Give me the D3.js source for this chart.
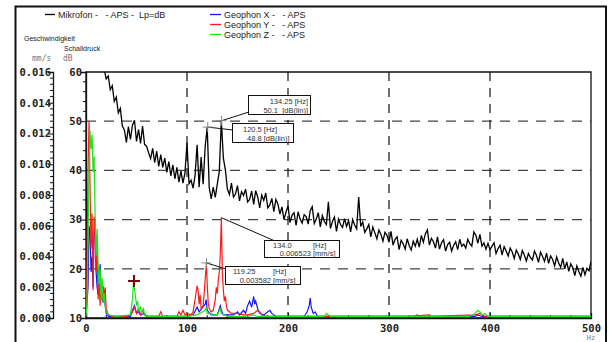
<!DOCTYPE html>
<html>
<head>
<meta charset="utf-8">
<title>Mikrofon / Geophon APS</title>
<style>
  body { margin: 0; background: #fff; }
  svg { display: block; }
  text { font-family: 'Liberation Sans', Arial, sans-serif; white-space: pre; }
  .tick-label { font-family: 'DejaVu Sans Mono', monospace; font-weight: bold; font-size: 10.5px; fill: #222; }
  .unit { font-family: 'DejaVu Sans Mono', monospace; font-size: 8px; fill: #777; }
  .note { font-size: 7.5px; fill: #333; }
  .legend { font-size: 9px; fill: #222; }
</style>
</head>
<body>
<script src="https://d3js.org/d3.v7.min.js"></script>
<script>

// ---- data -------------------------------------------------------------

// Mikrofon (dB), one value every 2 Hz starting at 18 Hz
var micStart = 18, micStep = 2;
var micDb = [
  60.5, 58.6, 59.2, 56.4, 57.2, 54.0, 54.9, 51.7, 52.6, 49.0,
  48.2, 45.7, 48.9, 46.3, 49.2, 50.2, 45.9, 48.3, 45.5, 49.0,
  45.3, 44.9, 43.6, 42.4, 44.5, 41.6, 43.9, 40.8, 43.2, 40.6,
  42.5, 39.6, 41.8, 38.9, 41.1, 38.3, 40.6, 37.6, 39.9, 37.4,
  39.5, 45.6, 37.3, 38.0, 36.4, 39.0, 45.2, 36.6, 42.7, 37.2,
  44.8, 48.8, 36.5, 34.2, 36.6, 34.5, 37.2, 39.8, 50.1, 42.5,
  40.1, 36.2, 35.1, 37.4, 34.6, 35.2, 36.9, 33.8, 35.7, 34.9,
  36.2, 33.6, 34.1, 35.8, 33.1, 35.9, 34.6, 32.4, 35.0, 33.9,
  35.4, 32.4, 33.0, 34.3, 31.6, 34.1, 33.2, 31.1, 32.6, 30.0,
  31.5, 32.8, 29.4, 30.9, 31.4, 28.8, 31.6, 30.1, 29.3, 31.0,
  30.6, 29.1, 31.8, 32.6, 29.2, 30.1, 31.4, 28.5, 30.8, 29.6,
  29.0, 33.6, 28.2, 29.6, 30.5, 27.6, 30.1, 29.0, 28.4, 30.2,
  28.6, 29.8, 27.5, 30.0, 28.9, 28.1, 34.6, 28.6, 29.5, 27.4,
  28.1, 29.0, 26.5, 28.5, 27.3, 26.1, 27.9, 27.0, 25.6, 27.4,
  26.8, 25.4, 27.6, 24.8, 26.0, 26.5, 23.9, 25.8, 25.1, 24.0,
  26.1, 24.7, 23.8, 25.6, 24.6, 26.0, 24.4, 26.8, 25.4, 27.1,
  27.9, 24.8, 26.2, 25.5, 24.2, 26.5, 24.0, 25.3, 25.9, 23.6,
  24.9, 25.4, 23.6, 24.8, 25.5, 23.9, 26.0, 24.6, 25.0, 24.2,
  26.0, 25.1, 24.6, 27.5, 26.8, 25.2, 27.0, 24.6, 25.3, 24.0,
  25.2, 23.9, 24.6, 25.3, 23.1, 24.1, 24.8, 22.8, 24.5, 23.6,
  22.6, 24.2, 23.4, 22.1, 23.8, 23.0, 21.9, 23.7, 22.8, 21.6,
  23.1, 22.3, 21.8, 23.6, 22.7, 21.3, 23.4, 22.5, 21.5, 23.2,
  21.1, 22.6, 21.9, 20.6, 22.4, 21.2, 20.3, 22.1, 20.0, 21.4,
  19.5, 21.0, 20.2, 18.6, 20.6, 19.4, 18.5, 20.3, 18.8, 20.1,
  19.6, 21.5
];

// Geophones (mm/s), [Hz, value]
var geoX = [
  [0,0.0001],[2,0.002],[3,0.006],[4,0.0055],[5,0.003],[6,0.004],[7,0.002],[8,0.0055],[9,0.0064],
  [10,0.003],[11,0.002],[12,0.0015],[13,0.0025],[14,0.0035],[15,0.0018],[16,0.0012],[17,0.001],
  [18,0.0018],[19,0.0008],[20,0.0003],[22,0.0001],[44,0.0001],[46,0.0005],[48,0.0008],[50,0.0003],
  [52,0.0004],[54,0.0002],[58,0.0003],[60,0.0001],[100,0.0001],[106,0.0002],[110,0.0007],[112,0.0004],
  [118,0.0009],[119,0.0012],[120,0.0005],[124,0.0002],[130,0.0002],[133,0.0008],[134,0.0005],[136,0.0002],
  [146,0.0002],[150,0.0004],[152,0.0002],[156,0.0005],[158,0.0003],[160,0.0008],[162,0.0011],[164,0.0007],
  [166,0.0014],[167,0.0009],[168,0.0011],[170,0.0006],[172,0.0003],[176,0.0002],[180,0.0004],[182,0.0005],
  [184,0.0003],[188,0.0001],[216,0.0001],[219,0.0004],[221,0.0008],[222,0.0013],[223,0.0007],[225,0.0003],
  [227,0.0004],[229,0.0001],[325,0.0001],[328,0.0002],[330,0.0001],[385,0.0001],[388,0.0002],[392,0.0001],
  [500,0.0001]
];
var geoY = [
  [0,0.0002],[1,0.003],[2,0.0095],[3,0.0128],[4,0.0085],[5,0.0045],[6,0.0068],[7,0.0018],[8,0.0066],
  [9,0.006],[10,0.003],[11,0.0045],[12,0.0012],[13,0.0022],[14,0.0008],[15,0.002],[16,0.0012],[17,0.0021],
  [18,0.0015],[19,0.002],[20,0.0006],[22,0.0002],[26,0.0001],[40,0.0001],[44,0.0002],[46,0.0004],
  [48,0.0007],[50,0.0003],[52,0.0006],[54,0.0002],[56,0.0005],[58,0.0002],[62,0.0001],[72,0.0001],
  [74,0.0004],[76,0.0001],[90,0.0001],[92,0.0004],[94,0.0002],[96,0.0005],[98,0.0002],[100,0.0003],
  [104,0.0002],[106,0.0004],[108,0.0012],[110,0.0021],[111,0.0018],[112,0.0009],[113,0.0015],[114,0.0006],
  [116,0.0008],[117,0.0016],[118,0.0025],[119.25,0.003582],[120,0.0022],[121,0.001],[122,0.0006],
  [124,0.0004],[126,0.0005],[128,0.0012],[129,0.002],[130,0.0016],[131,0.0025],[132,0.003],[133,0.0042],
  [134,0.006523],[135,0.003],[136,0.0018],[137,0.0011],[138,0.0014],[139,0.0008],[140,0.0005],
  [142,0.0004],[144,0.0003],[150,0.0003],[156,0.0002],[160,0.0002],[166,0.0003],[170,0.0005],
  [172,0.0004],[174,0.0002],[180,0.0001],[320,0.0001],[340,0.0002],[342,0.0001],[385,0.0002],
  [390,0.0003],[395,0.0001],[500,0.0001]
];
var geoZ = [
  [0,0.0001],[1,0.001],[2,0.005],[3,0.0095],[4,0.0122],[5,0.011],[6,0.0119],[7,0.0095],[8,0.0105],
  [9,0.0068],[10,0.004],[11,0.0058],[12,0.0035],[13,0.0022],[14,0.0032],[15,0.0012],[16,0.0026],
  [17,0.001],[18,0.0016],[19,0.0008],[20,0.0004],[22,0.0002],[30,0.0001],[44,0.0002],[46,0.0012],
  [47,0.0023],[48,0.0019],[49,0.0014],[50,0.0008],[51,0.0011],[52,0.0005],[54,0.0007],[55,0.0003],
  [57,0.0006],[58,0.0002],[60,0.0001],[100,0.0001],[110,0.0002],[118,0.0005],[119,0.0007],[120,0.0003],
  [130,0.0002],[133,0.0006],[134,0.0003],[140,0.0001],[160,0.0001],[165,0.0002],[170,0.0001],
  [236,0.0001],[238,0.0003],[240,0.0002],[242,0.0001],[380,0.0001],[385,0.0003],[388,0.0005],
  [390,0.0004],[392,0.0002],[395,0.0003],[398,0.0001],[500,0.0001]
];

var dbTicks = [10, 20, 30, 40, 50, 60];
var mmTicks = [0, 0.002, 0.004, 0.006, 0.008, 0.010, 0.012, 0.014, 0.016];
var hzTicks = [0, 100, 200, 300, 400, 500];

// cursor readouts
var dbCursors = [
  { f: 134.25, v: 50.1, l1: '134.25 [Hz]', l2: '50.1  [dB(lin)]' },
  { f: 120.5, v: 48.8, l1: '120.5 [Hz]', l2: '48.8 [dB(lin)]' }
];
var mmCursors = [
  { f: 134.0, v: 0.006523, num: '134.0', val: '0.006523' },
  { f: 119.25, v: 0.003582, num: '119.25', val: '0.003582' }
];
var redMark = { f: 47.5, v: 0.0024 };

// ---- layout -----------------------------------------------------------

var width = 609, height = 342;
var plotL = 86, plotR = 591, plotT = 72, plotB = 318;

var svg = d3.select('body').append('svg')
  .attr('width', width)
  .attr('height', height);

var x = d3.scaleLinear().domain([0, 500]).range([plotL, plotR]);
var yDb = d3.scaleLinear().domain([10, 60]).range([plotB, plotT]);
var yMm = d3.scaleLinear().domain([0, 0.016]).range([plotB, plotT]);

// outer frame
svg.append('rect')
  .attr('x', 15.5).attr('y', 6.5)
  .attr('width', 590.5).attr('height', 345)
  .attr('fill', 'none').attr('stroke', '#111').attr('stroke-width', 2);

// dashed grid
svg.append('g').selectAll('line')
  .data([20, 30, 40, 50])
  .enter().append('line')
  .attr('x1', plotL).attr('x2', plotR)
  .attr('y1', function (d) { return yDb(d); })
  .attr('y2', function (d) { return yDb(d); })
  .attr('stroke', '#444').attr('stroke-width', 1.2)
  .attr('stroke-dasharray', '10,8');

svg.append('g').selectAll('line')
  .data([100, 200, 300, 400])
  .enter().append('line')
  .attr('x1', function (d) { return x(d); })
  .attr('x2', function (d) { return x(d); })
  .attr('y1', plotT).attr('y2', plotB)
  .attr('stroke', '#111').attr('stroke-width', 1.2)
  .attr('stroke-dasharray', '9,7');

// plot box
svg.append('path')
  .attr('d', 'M' + plotL + ',' + plotT + 'H' + plotR + 'V' + plotB + 'H' + plotL + 'Z')
  .attr('fill', 'none').attr('stroke', '#111').attr('stroke-width', 1.3);

// dB axis
var dbAxis = d3.axisLeft(yDb).tickValues(dbTicks).tickSize(5).tickFormat(d3.format('d'));
var gDb = svg.append('g').attr('transform', 'translate(' + plotL + ',0)').call(dbAxis);
gDb.append('g').selectAll('line')
  .data(d3.range(12, 60, 2).filter(function (d) { return d % 10 !== 0; }))
  .enter().append('line')
  .attr('x1', -3).attr('x2', 0)
  .attr('y1', function (d) { return yDb(d); })
  .attr('y2', function (d) { return yDb(d); })
  .attr('stroke', '#111');

// mm/s axis
var mmAxis = d3.axisLeft(yMm).tickValues(mmTicks).tickSize(5).tickFormat(d3.format('.3f'));
var gMm = svg.append('g').attr('transform', 'translate(53,0)').call(mmAxis);
gMm.append('g').selectAll('line')
  .data(d3.range(0, 40).map(function (i) { return i * 0.0004; }).filter(function (d, i) { return i % 5 !== 0; }))
  .enter().append('line')
  .attr('x1', -3).attr('x2', 0)
  .attr('y1', function (d) { return yMm(d); })
  .attr('y2', function (d) { return yMm(d); })
  .attr('stroke', '#111');

// Hz axis
var hzAxis = d3.axisBottom(x).tickValues(hzTicks).tickSize(-5).tickFormat(d3.format('d'));
var gHz = svg.append('g').attr('transform', 'translate(0,' + plotB + ')').call(hzAxis);
gHz.append('g').selectAll('line')
  .data(d3.range(20, 500, 20).filter(function (d) { return d % 100 !== 0; }))
  .enter().append('line')
  .attr('x1', function (d) { return x(d); })
  .attr('x2', function (d) { return x(d); })
  .attr('y1', -3).attr('y2', 0)
  .attr('stroke', '#111');

[gDb, gMm, gHz].forEach(function (g) {
  g.select('.domain').attr('stroke', '#111').attr('stroke-width', 1.3);
  g.selectAll('.tick line').attr('stroke', '#111');
  g.selectAll('.tick text').attr('class', 'tick-label').attr('fill', null);
});
gDb.selectAll('.tick text').attr('x', -4);
gMm.selectAll('.tick text').attr('x', -2);
gHz.selectAll('.tick text').attr('y', 7);

// unit labels
svg.append('text').attr('class', 'unit').attr('x', 591).attr('y', 340)
  .attr('text-anchor', 'middle').style('font-size', '7px').text('Hz');
svg.append('text').attr('class', 'unit').attr('x', 32).attr('y', 61).text('mm/s');
svg.append('text').attr('class', 'unit').attr('x', 63).attr('y', 61).text('dB');
svg.append('text').attr('x', 24).attr('y', 41).style('font-size', '7px').attr('fill', '#222').text('Geschwindigkeit');
svg.append('text').attr('x', 64).attr('y', 51).style('font-size', '7px').attr('fill', '#222').text('Schalldruck');

// ---- series -----------------------------------------------------------

svg.append('clipPath').attr('id', 'plot')
  .append('rect').attr('x', plotL).attr('y', plotT)
  .attr('width', plotR - plotL).attr('height', plotB - plotT);

var plot = svg.append('g').attr('clip-path', 'url(#plot)');

var micLine = d3.line()
  .x(function (d, i) { return x(micStart + i * micStep); })
  .y(function (d) { return yDb(d); });

var geoLine = d3.line()
  .x(function (d) { return x(d[0]); })
  .y(function (d) { return yMm(d[1]); });

plot.append('path').attr('d', micLine(micDb))
  .attr('fill', 'none').attr('stroke', '#000').attr('stroke-width', 1.3);

[[geoX, '#1515ff'], [geoY, '#ff1a1a'], [geoZ, '#19e619']].forEach(function (s) {
  plot.append('path').attr('d', geoLine(s[0]))
    .attr('fill', 'none').attr('stroke', s[1]).attr('stroke-width', 1.2);
});

// ---- cursors ----------------------------------------------------------

function plus (cx, cy, size, color, w) {
  svg.append('path')
    .attr('d', 'M' + (cx - size) + ',' + cy + 'H' + (cx + size) + 'M' + cx + ',' + (cy - size) + 'V' + (cy + size))
    .attr('stroke', color).attr('stroke-width', w);
}

function box (bx, by, bw, bh) {
  svg.append('rect').attr('x', bx).attr('y', by).attr('width', bw).attr('height', bh)
    .attr('fill', '#fff').attr('stroke', '#111').attr('stroke-width', 1);
}

function leader (x1, y1, x2, y2) {
  svg.append('line').attr('x1', x1).attr('y1', y1).attr('x2', x2).attr('y2', y2)
    .attr('stroke', '#111').attr('stroke-width', 1);
}

// dB readouts
var c0 = dbCursors[0], c1 = dbCursors[1];
leader(x(c0.f), yDb(c0.v), 249, 112);
leader(x(c1.f), yDb(c1.v), 233, 130);
plus(x(c0.f), yDb(c0.v), 5, '#888', 1);
plus(x(c1.f), yDb(c1.v), 5, '#888', 1);
box(248.5, 95.5, 62, 19);
svg.append('text').attr('class', 'note').attr('x', 308).attr('y', 104).attr('text-anchor', 'end').text(c0.l1);
svg.append('text').attr('class', 'note').attr('x', 308).attr('y', 112.5).attr('text-anchor', 'end').text(c0.l2);
box(232.5, 123.5, 61, 19);
svg.append('text').attr('class', 'note').attr('x', 243).attr('y', 132).text(c1.l1);
svg.append('text').attr('class', 'note').attr('x', 247).attr('y', 140.5).text(c1.l2);

// mm/s readouts
var m0 = mmCursors[0], m1 = mmCursors[1];
leader(x(m0.f), yMm(m0.v), 275, 241);
leader(x(m1.f), yMm(m1.v), 226, 269);
plus(x(m1.f), yMm(m1.v), 5, '#888', 1);
box(264.5, 240.5, 75, 17);
svg.append('text').attr('class', 'note').attr('x', 273).attr('y', 248).text(m0.num);
svg.append('text').attr('class', 'note').attr('x', 313).attr('y', 248).text('[Hz]');
svg.append('text').attr('class', 'note').attr('x', 311).attr('y', 256).attr('text-anchor', 'end').text(m0.val);
svg.append('text').attr('class', 'note').attr('x', 313).attr('y', 256).text('[mm/s]');
box(225.5, 266.5, 75, 18);
svg.append('text').attr('class', 'note').attr('x', 233).attr('y', 274).text(m1.num);
svg.append('text').attr('class', 'note').attr('x', 273).attr('y', 274).text('[Hz]');
svg.append('text').attr('class', 'note').attr('x', 271).attr('y', 282.5).attr('text-anchor', 'end').text(m1.val);
svg.append('text').attr('class', 'note').attr('x', 273).attr('y', 282.5).text('[mm/s]');

plus(x(redMark.f), yMm(redMark.v), 6, '#7a0a0a', 2);

// ---- legend -----------------------------------------------------------

svg.append('line').attr('x1', 45).attr('x2', 55).attr('y1', 14.5).attr('y2', 14.5)
  .attr('stroke', '#000').attr('stroke-width', 1.3);
svg.append('text').attr('class', 'legend').attr('x', 58).attr('y', 17.5).text('Mikrofon -   - APS -  Lp=dB');

var legendGeo = [['Geophon X -   - APS', '#1515ff'], ['Geophon Y -   - APS', '#ff1a1a'], ['Geophon Z -   - APS', '#19e619']];
legendGeo.forEach(function (d, i) {
  svg.append('line').attr('x1', 210).attr('x2', 221).attr('y1', 14.5 + i * 10).attr('y2', 14.5 + i * 10)
    .attr('stroke', d[1]).attr('stroke-width', 1.3);
  svg.append('text').attr('class', 'legend').attr('x', 224).attr('y', 17.5 + i * 10).text(d[0]);
});

</script>
</body>
</html>
